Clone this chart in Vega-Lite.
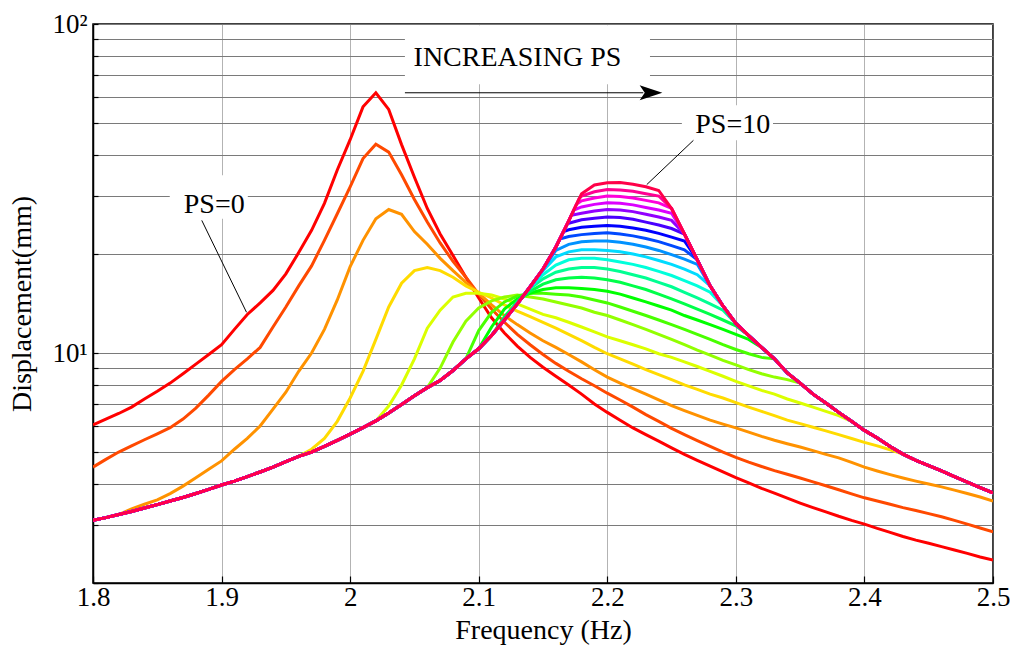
{
"$schema":"https://vega.github.io/schema/vega-lite/v6.json",
"width":900,"height":559,
"autosize":{"type":"none"},
"padding":{"left":93,"top":24,"right":17,"bottom":64},
"background":"white",
"config":{
"view":{"stroke":"#000","strokeWidth":1.5},
"font":"Liberation Serif",
"axis":{"labelFont":"Liberation Serif","titleFont":"Liberation Serif","labelFontSize":27,"titleFontSize":28,"labelColor":"#000","titleColor":"#000","titleFontWeight":"normal","domainColor":"#000","domainWidth":1.5,"tickColor":"#000","tickWidth":1.2,"gridOpacity":1,"gridWidth":1}
},
"datasets":{
"curves":[
{"hz":1.8,"a":6.05,"b":4.5,"c":3.1,"d":3.1,"e":3.1,"f":3.1,"g":3.1,"h":3.1,"i":3.1,"j":3.1,"k":3.1,"l":3.1,"m":3.1,"n":3.1,"o":3.1,"p":3.1,"q":3.1,"r":3.1,"s":3.1,"t":3.1,"u":3.1},
{"hz":1.81,"a":6.3,"b":4.75,"c":3.16,"d":3.16,"e":3.16,"f":3.16,"g":3.16,"h":3.16,"i":3.16,"j":3.16,"k":3.16,"l":3.16,"m":3.16,"n":3.16,"o":3.16,"p":3.16,"q":3.16,"r":3.16,"s":3.16,"t":3.16,"u":3.16},
{"hz":1.82,"a":6.55,"b":5.0,"c":3.23,"d":3.23,"e":3.23,"f":3.23,"g":3.23,"h":3.23,"i":3.23,"j":3.23,"k":3.23,"l":3.23,"m":3.23,"n":3.23,"o":3.23,"p":3.23,"q":3.23,"r":3.23,"s":3.23,"t":3.23,"u":3.23},
{"hz":1.83,"a":6.85,"b":5.22,"c":3.36,"d":3.3,"e":3.3,"f":3.3,"g":3.3,"h":3.3,"i":3.3,"j":3.3,"k":3.3,"l":3.3,"m":3.3,"n":3.3,"o":3.3,"p":3.3,"q":3.3,"r":3.3,"s":3.3,"t":3.3,"u":3.3},
{"hz":1.84,"a":7.25,"b":5.45,"c":3.47,"d":3.38,"e":3.38,"f":3.38,"g":3.38,"h":3.38,"i":3.38,"j":3.38,"k":3.38,"l":3.38,"m":3.38,"n":3.38,"o":3.38,"p":3.38,"q":3.38,"r":3.38,"s":3.38,"t":3.38,"u":3.38},
{"hz":1.85,"a":7.65,"b":5.68,"c":3.58,"d":3.46,"e":3.46,"f":3.46,"g":3.46,"h":3.46,"i":3.46,"j":3.46,"k":3.46,"l":3.46,"m":3.46,"n":3.46,"o":3.46,"p":3.46,"q":3.46,"r":3.46,"s":3.46,"t":3.46,"u":3.46},
{"hz":1.86,"a":8.1,"b":5.93,"c":3.74,"d":3.55,"e":3.55,"f":3.55,"g":3.55,"h":3.55,"i":3.55,"j":3.55,"k":3.55,"l":3.55,"m":3.55,"n":3.55,"o":3.55,"p":3.55,"q":3.55,"r":3.55,"s":3.55,"t":3.55,"u":3.55},
{"hz":1.87,"a":8.65,"b":6.3,"c":3.94,"d":3.64,"e":3.64,"f":3.64,"g":3.64,"h":3.64,"i":3.64,"j":3.64,"k":3.64,"l":3.64,"m":3.64,"n":3.64,"o":3.64,"p":3.64,"q":3.64,"r":3.64,"s":3.64,"t":3.64,"u":3.64},
{"hz":1.88,"a":9.25,"b":6.8,"c":4.18,"d":3.74,"e":3.74,"f":3.74,"g":3.74,"h":3.74,"i":3.74,"j":3.74,"k":3.74,"l":3.74,"m":3.74,"n":3.74,"o":3.74,"p":3.74,"q":3.74,"r":3.74,"s":3.74,"t":3.74,"u":3.74},
{"hz":1.89,"a":9.9,"b":7.45,"c":4.43,"d":3.85,"e":3.85,"f":3.85,"g":3.85,"h":3.85,"i":3.85,"j":3.85,"k":3.85,"l":3.85,"m":3.85,"n":3.85,"o":3.85,"p":3.85,"q":3.85,"r":3.85,"s":3.85,"t":3.85,"u":3.85},
{"hz":1.9,"a":10.6,"b":8.2,"c":4.7,"d":3.97,"e":3.97,"f":3.97,"g":3.97,"h":3.97,"i":3.97,"j":3.97,"k":3.97,"l":3.97,"m":3.97,"n":3.97,"o":3.97,"p":3.97,"q":3.97,"r":3.97,"s":3.97,"t":3.97,"u":3.97},
{"hz":1.91,"a":11.8,"b":8.9,"c":5.1,"d":4.08,"e":4.08,"f":4.08,"g":4.08,"h":4.08,"i":4.08,"j":4.08,"k":4.08,"l":4.08,"m":4.08,"n":4.08,"o":4.08,"p":4.08,"q":4.08,"r":4.08,"s":4.08,"t":4.08,"u":4.08},
{"hz":1.92,"a":13.1,"b":9.6,"c":5.5,"d":4.21,"e":4.21,"f":4.21,"g":4.21,"h":4.21,"i":4.21,"j":4.21,"k":4.21,"l":4.21,"m":4.21,"n":4.21,"o":4.21,"p":4.21,"q":4.21,"r":4.21,"s":4.21,"t":4.21,"u":4.21},
{"hz":1.93,"a":14.2,"b":10.4,"c":6.0,"d":4.35,"e":4.35,"f":4.35,"g":4.35,"h":4.35,"i":4.35,"j":4.35,"k":4.35,"l":4.35,"m":4.35,"n":4.35,"o":4.35,"p":4.35,"q":4.35,"r":4.35,"s":4.35,"t":4.35,"u":4.35},
{"hz":1.94,"a":15.5,"b":12.0,"c":6.75,"d":4.5,"e":4.5,"f":4.5,"g":4.5,"h":4.5,"i":4.5,"j":4.5,"k":4.5,"l":4.5,"m":4.5,"n":4.5,"o":4.5,"p":4.5,"q":4.5,"r":4.5,"s":4.5,"t":4.5,"u":4.5},
{"hz":1.95,"a":17.4,"b":13.8,"c":7.6,"d":4.68,"e":4.68,"f":4.68,"g":4.68,"h":4.68,"i":4.68,"j":4.68,"k":4.68,"l":4.68,"m":4.68,"n":4.68,"o":4.68,"p":4.68,"q":4.68,"r":4.68,"s":4.68,"t":4.68,"u":4.68},
{"hz":1.96,"a":20.2,"b":16.0,"c":8.8,"d":4.85,"e":4.85,"f":4.85,"g":4.85,"h":4.85,"i":4.85,"j":4.85,"k":4.85,"l":4.85,"m":4.85,"n":4.85,"o":4.85,"p":4.85,"q":4.85,"r":4.85,"s":4.85,"t":4.85,"u":4.85},
{"hz":1.97,"a":23.6,"b":18.4,"c":10.0,"d":5.1,"e":5.0,"f":5.0,"g":5.0,"h":5.0,"i":5.0,"j":5.0,"k":5.0,"l":5.0,"m":5.0,"n":5.0,"o":5.0,"p":5.0,"q":5.0,"r":5.0,"s":5.0,"t":5.0,"u":5.0},
{"hz":1.98,"a":28.5,"b":22.0,"c":11.8,"d":5.5,"e":5.2,"f":5.2,"g":5.2,"h":5.2,"i":5.2,"j":5.2,"k":5.2,"l":5.2,"m":5.2,"n":5.2,"o":5.2,"p":5.2,"q":5.2,"r":5.2,"s":5.2,"t":5.2,"u":5.2},
{"hz":1.99,"a":36.0,"b":26.5,"c":14.5,"d":6.2,"e":5.43,"f":5.43,"g":5.43,"h":5.43,"i":5.43,"j":5.43,"k":5.43,"l":5.43,"m":5.43,"n":5.43,"o":5.43,"p":5.43,"q":5.43,"r":5.43,"s":5.43,"t":5.43,"u":5.43},
{"hz":2.0,"a":44.5,"b":32.0,"c":18.3,"d":7.3,"e":5.67,"f":5.67,"g":5.67,"h":5.67,"i":5.67,"j":5.67,"k":5.67,"l":5.67,"m":5.67,"n":5.67,"o":5.67,"p":5.67,"q":5.67,"r":5.67,"s":5.67,"t":5.67,"u":5.67},
{"hz":2.01,"a":56.0,"b":39.0,"c":22.0,"d":8.8,"e":5.93,"f":5.93,"g":5.93,"h":5.93,"i":5.93,"j":5.93,"k":5.93,"l":5.93,"m":5.93,"n":5.93,"o":5.93,"p":5.93,"q":5.93,"r":5.93,"s":5.93,"t":5.93,"u":5.93},
{"hz":2.02,"a":61.8,"b":43.1,"c":25.6,"d":11.0,"e":6.22,"f":6.22,"g":6.22,"h":6.22,"i":6.22,"j":6.22,"k":6.22,"l":6.22,"m":6.22,"n":6.22,"o":6.22,"p":6.22,"q":6.22,"r":6.22,"s":6.22,"t":6.22,"u":6.22},
{"hz":2.03,"a":55.0,"b":40.8,"c":27.3,"d":13.8,"e":6.9,"f":6.57,"g":6.57,"h":6.57,"i":6.57,"j":6.57,"k":6.57,"l":6.57,"m":6.57,"n":6.57,"o":6.57,"p":6.57,"q":6.57,"r":6.57,"s":6.57,"t":6.57,"u":6.57},
{"hz":2.04,"a":43.0,"b":34.8,"c":26.4,"d":16.3,"e":8.0,"f":6.98,"g":6.98,"h":6.98,"i":6.98,"j":6.98,"k":6.98,"l":6.98,"m":6.98,"n":6.98,"o":6.98,"p":6.98,"q":6.98,"r":6.98,"s":6.98,"t":6.98,"u":6.98},
{"hz":2.05,"a":34.2,"b":29.3,"c":23.4,"d":17.8,"e":9.6,"f":7.42,"g":7.42,"h":7.42,"i":7.42,"j":7.42,"k":7.42,"l":7.42,"m":7.42,"n":7.42,"o":7.42,"p":7.42,"q":7.42,"r":7.42,"s":7.42,"t":7.42,"u":7.42},
{"hz":2.06,"a":27.5,"b":25.0,"c":21.4,"d":18.2,"e":11.9,"f":7.85,"g":7.85,"h":7.85,"i":7.85,"j":7.85,"k":7.85,"l":7.85,"m":7.85,"n":7.85,"o":7.85,"p":7.85,"q":7.85,"r":7.85,"s":7.85,"t":7.85,"u":7.85},
{"hz":2.07,"a":23.0,"b":21.6,"c":19.4,"d":17.8,"e":13.5,"f":9.0,"g":8.25,"h":8.25,"i":8.25,"j":8.25,"k":8.25,"l":8.25,"m":8.25,"n":8.25,"o":8.25,"p":8.25,"q":8.25,"r":8.25,"s":8.25,"t":8.25,"u":8.25},
{"hz":2.08,"a":19.8,"b":19.0,"c":17.8,"d":17.0,"e":14.8,"f":10.8,"g":8.85,"h":8.85,"i":8.85,"j":8.85,"k":8.85,"l":8.85,"m":8.85,"n":8.85,"o":8.85,"p":8.85,"q":8.85,"r":8.85,"s":8.85,"t":8.85,"u":8.85},
{"hz":2.09,"a":17.0,"b":17.0,"c":16.4,"d":16.0,"e":15.2,"f":12.5,"g":9.6,"h":9.6,"i":9.6,"j":9.6,"k":9.6,"l":9.6,"m":9.6,"n":9.6,"o":9.6,"p":9.6,"q":9.6,"r":9.6,"s":9.6,"t":9.6,"u":9.6},
{"hz":2.1,"a":14.7,"b":15.1,"c":15.2,"d":15.3,"e":15.2,"f":13.7,"g":11.7,"h":10.3,"i":10.3,"j":10.3,"k":10.3,"l":10.3,"m":10.3,"n":10.3,"o":10.3,"p":10.3,"q":10.3,"r":10.3,"s":10.3,"t":10.3,"u":10.3},
{"hz":2.11,"a":12.8,"b":13.6,"c":14.0,"d":14.7,"e":15.0,"f":14.4,"g":13.3,"h":12.0,"i":11.3,"j":11.3,"k":11.3,"l":11.3,"m":11.3,"n":11.3,"o":11.3,"p":11.3,"q":11.3,"r":11.3,"s":11.3,"t":11.3,"u":11.3},
{"hz":2.12,"a":11.5,"b":12.4,"c":13.0,"d":14.0,"e":14.6,"f":14.8,"g":14.3,"h":13.6,"i":12.9,"j":12.6,"k":12.6,"l":12.6,"m":12.6,"n":12.6,"o":12.6,"p":12.6,"q":12.6,"r":12.6,"s":12.6,"t":12.6,"u":12.6},
{"hz":2.13,"a":10.5,"b":11.4,"c":12.2,"d":13.4,"e":14.1,"f":15.0,"g":14.9,"h":14.6,"i":14.3,"j":14.3,"k":14.1,"l":14.1,"m":14.1,"n":14.1,"o":14.1,"p":14.1,"q":14.1,"r":14.1,"s":14.1,"t":14.1,"u":14.1},
{"hz":2.14,"a":9.7,"b":10.6,"c":11.5,"d":12.9,"e":13.6,"f":14.8,"g":15.2,"h":15.2,"i":15.4,"j":15.7,"k":15.8,"l":15.9,"m":15.9,"n":15.9,"o":15.9,"p":15.9,"q":15.9,"r":15.9,"s":15.9,"t":15.9,"u":15.9},
{"hz":2.15,"a":9.05,"b":9.9,"c":10.9,"d":12.4,"e":13.1,"f":14.6,"g":15.2,"h":15.6,"i":16.2,"j":16.8,"k":17.3,"l":17.8,"m":18.0,"n":18.0,"o":18.0,"p":18.0,"q":18.0,"r":18.0,"s":18.0,"t":18.0,"u":18.0},
{"hz":2.16,"a":8.5,"b":9.3,"c":10.4,"d":11.9,"e":12.8,"f":14.3,"g":15.1,"h":15.8,"i":16.7,"j":17.6,"k":18.5,"l":19.6,"m":20.5,"n":21.0,"o":21.0,"p":21.0,"q":21.0,"r":21.0,"s":21.0,"t":21.0,"u":21.0},
{"hz":2.163,"n":22.2},
{"hz":2.166,"o":23.4},
{"hz":2.169,"p":24.7},
{"hz":2.17,"a":8.0,"b":8.8,"c":9.9,"d":11.4,"e":12.4,"f":14.0,"g":15.0,"h":15.8,"i":16.9,"j":18.0,"k":19.2,"l":20.3,"m":21.4,"n":22.6,"o":23.7,"p":24.8,"q":25.2,"r":25.2,"s":25.2,"t":25.2,"u":25.2},
{"hz":2.172,"q":26.2},
{"hz":2.174,"r":27.2},
{"hz":2.176,"s":28.3},
{"hz":2.178,"t":29.4},
{"hz":2.18,"a":7.5,"b":8.35,"c":9.4,"d":10.9,"e":12.0,"f":13.7,"g":14.8,"h":15.7,"i":17.0,"j":18.2,"k":19.4,"l":20.6,"m":21.8,"n":22.9,"o":24.1,"p":25.4,"q":26.6,"r":27.8,"s":29.0,"t":30.0,"u":30.5},
{"hz":2.19,"a":7.0,"b":7.95,"c":8.9,"d":10.4,"e":11.6,"f":13.3,"g":14.5,"h":15.6,"i":16.9,"j":18.2,"k":19.4,"l":20.6,"m":21.9,"n":23.1,"o":24.3,"p":25.7,"q":27.0,"r":28.3,"s":29.6,"t":30.9,"u":32.4},
{"hz":2.2,"a":6.6,"b":7.55,"c":8.45,"d":9.95,"e":11.2,"f":13.0,"g":14.2,"h":15.4,"i":16.7,"j":18.0,"k":19.2,"l":20.5,"m":21.9,"n":23.2,"o":24.4,"p":25.9,"q":27.3,"r":28.6,"s":30.0,"t":31.4,"u":32.9},
{"hz":2.21,"a":6.25,"b":7.2,"c":8.1,"d":9.6,"e":10.9,"f":12.6,"g":13.8,"h":15.1,"i":16.4,"j":17.7,"k":18.9,"l":20.3,"m":21.7,"n":23.0,"o":24.3,"p":25.8,"q":27.2,"r":28.5,"s":29.9,"t":31.3,"u":33.0},
{"hz":2.22,"a":5.92,"b":6.85,"c":7.8,"d":9.25,"e":10.6,"f":12.2,"g":13.4,"h":14.7,"i":16.0,"j":17.3,"k":18.6,"l":20.0,"m":21.4,"n":22.7,"o":24.0,"p":25.5,"q":26.9,"r":28.2,"s":29.6,"t":31.0,"u":32.6},
{"hz":2.23,"a":5.65,"b":6.5,"c":7.5,"d":8.9,"e":10.3,"f":11.8,"g":13.0,"h":14.3,"i":15.6,"j":16.9,"k":18.2,"l":19.6,"m":21.0,"n":22.3,"o":23.6,"p":25.0,"q":26.4,"r":27.7,"s":29.1,"t":30.5,"u":32.0},
{"hz":2.24,"a":5.4,"b":6.2,"c":7.2,"d":8.6,"e":9.95,"f":11.4,"g":12.6,"h":13.9,"i":15.1,"j":16.4,"k":17.7,"l":19.1,"m":20.5,"n":21.8,"o":23.1,"p":24.5,"q":25.9,"r":27.2,"s":28.6,"t":30.0,"u":31.2},
{"hz":2.25,"a":5.15,"b":5.9,"c":6.92,"d":8.3,"e":9.7,"f":11.0,"g":12.2,"h":13.5,"i":14.6,"j":15.9,"k":17.2,"l":18.6,"m":19.9,"n":21.2,"o":22.5,"p":23.9,"q":25.3,"r":26.6,"s":27.5,"t":27.5,"u":27.5},
{"hz":2.26,"a":4.92,"b":5.65,"c":6.68,"d":8.0,"e":9.4,"f":10.6,"g":11.8,"h":13.0,"i":14.1,"j":15.3,"k":16.6,"l":18.0,"m":19.3,"n":20.6,"o":21.9,"p":23.0,"q":23.0,"r":23.0,"s":23.0,"t":23.0,"u":23.0},
{"hz":2.27,"a":4.72,"b":5.42,"c":6.46,"d":7.75,"e":9.1,"f":10.2,"g":11.4,"h":12.6,"i":13.6,"j":14.7,"k":16.0,"l":17.3,"m":18.6,"n":19.2,"o":19.2,"p":19.2,"q":19.2,"r":19.2,"s":19.2,"t":19.2,"u":19.2},
{"hz":2.28,"a":4.53,"b":5.2,"c":6.25,"d":7.5,"e":8.8,"f":9.85,"g":11.0,"h":12.2,"i":13.1,"j":14.1,"k":15.3,"l":16.0,"m":16.0,"n":16.0,"o":16.0,"p":16.0,"q":16.0,"r":16.0,"s":16.0,"t":16.0,"u":16.0},
{"hz":2.29,"a":4.35,"b":5.0,"c":6.08,"d":7.3,"e":8.5,"f":9.5,"g":10.6,"h":11.8,"i":12.6,"j":13.5,"k":13.9,"l":13.9,"m":13.9,"n":13.9,"o":13.9,"p":13.9,"q":13.9,"r":13.9,"s":13.9,"t":13.9,"u":13.9},
{"hz":2.3,"a":4.18,"b":4.82,"c":5.92,"d":7.07,"e":8.2,"f":9.2,"g":10.25,"h":11.4,"i":12.1,"j":12.3,"k":12.3,"l":12.3,"m":12.3,"n":12.3,"o":12.3,"p":12.3,"q":12.3,"r":12.3,"s":12.3,"t":12.3,"u":12.3},
{"hz":2.31,"a":4.03,"b":4.66,"c":5.75,"d":6.85,"e":7.95,"f":8.9,"g":9.95,"h":11.0,"i":11.3,"j":11.3,"k":11.3,"l":11.3,"m":11.3,"n":11.3,"o":11.3,"p":11.3,"q":11.3,"r":11.3,"s":11.3,"t":11.3,"u":11.3},
{"hz":2.32,"a":3.88,"b":4.52,"c":5.58,"d":6.65,"e":7.7,"f":8.65,"g":9.7,"h":10.4,"i":10.4,"j":10.4,"k":10.4,"l":10.4,"m":10.4,"n":10.4,"o":10.4,"p":10.4,"q":10.4,"r":10.4,"s":10.4,"t":10.4,"u":10.4},
{"hz":2.33,"a":3.75,"b":4.39,"c":5.43,"d":6.45,"e":7.5,"f":8.45,"g":9.6,"h":9.6,"i":9.6,"j":9.6,"k":9.6,"l":9.6,"m":9.6,"n":9.6,"o":9.6,"p":9.6,"q":9.6,"r":9.6,"s":9.6,"t":9.6,"u":9.6},
{"hz":2.34,"a":3.62,"b":4.28,"c":5.3,"d":6.25,"e":7.25,"f":8.3,"g":8.7,"h":8.7,"i":8.7,"j":8.7,"k":8.7,"l":8.7,"m":8.7,"n":8.7,"o":8.7,"p":8.7,"q":8.7,"r":8.7,"s":8.7,"t":8.7,"u":8.7},
{"hz":2.35,"a":3.5,"b":4.17,"c":5.18,"d":6.1,"e":7.05,"f":8.1,"g":8.1,"h":8.1,"i":8.1,"j":8.1,"k":8.1,"l":8.1,"m":8.1,"n":8.1,"o":8.1,"p":8.1,"q":8.1,"r":8.1,"s":8.1,"t":8.1,"u":8.1},
{"hz":2.36,"a":3.39,"b":4.06,"c":5.05,"d":5.95,"e":6.85,"f":7.5,"g":7.5,"h":7.5,"i":7.5,"j":7.5,"k":7.5,"l":7.5,"m":7.5,"n":7.5,"o":7.5,"p":7.5,"q":7.5,"r":7.5,"s":7.5,"t":7.5,"u":7.5},
{"hz":2.37,"a":3.29,"b":3.95,"c":4.92,"d":5.8,"e":6.65,"f":7.05,"g":7.05,"h":7.05,"i":7.05,"j":7.05,"k":7.05,"l":7.05,"m":7.05,"n":7.05,"o":7.05,"p":7.05,"q":7.05,"r":7.05,"s":7.05,"t":7.05,"u":7.05},
{"hz":2.38,"a":3.19,"b":3.84,"c":4.8,"d":5.65,"e":6.45,"f":6.6,"g":6.6,"h":6.6,"i":6.6,"j":6.6,"k":6.6,"l":6.6,"m":6.6,"n":6.6,"o":6.6,"p":6.6,"q":6.6,"r":6.6,"s":6.6,"t":6.6,"u":6.6},
{"hz":2.39,"a":3.1,"b":3.73,"c":4.65,"d":5.5,"e":6.2,"f":6.2,"g":6.2,"h":6.2,"i":6.2,"j":6.2,"k":6.2,"l":6.2,"m":6.2,"n":6.2,"o":6.2,"p":6.2,"q":6.2,"r":6.2,"s":6.2,"t":6.2,"u":6.2},
{"hz":2.4,"a":3.02,"b":3.63,"c":4.5,"d":5.35,"e":5.82,"f":5.82,"g":5.82,"h":5.82,"i":5.82,"j":5.82,"k":5.82,"l":5.82,"m":5.82,"n":5.82,"o":5.82,"p":5.82,"q":5.82,"r":5.82,"s":5.82,"t":5.82,"u":5.82},
{"hz":2.41,"a":2.93,"b":3.55,"c":4.38,"d":5.22,"e":5.52,"f":5.52,"g":5.52,"h":5.52,"i":5.52,"j":5.52,"k":5.52,"l":5.52,"m":5.52,"n":5.52,"o":5.52,"p":5.52,"q":5.52,"r":5.52,"s":5.52,"t":5.52,"u":5.52},
{"hz":2.42,"a":2.85,"b":3.47,"c":4.27,"d":5.08,"e":5.2,"f":5.2,"g":5.2,"h":5.2,"i":5.2,"j":5.2,"k":5.2,"l":5.2,"m":5.2,"n":5.2,"o":5.2,"p":5.2,"q":5.2,"r":5.2,"s":5.2,"t":5.2,"u":5.2},
{"hz":2.43,"a":2.77,"b":3.39,"c":4.17,"d":4.93,"e":4.93,"f":4.93,"g":4.93,"h":4.93,"i":4.93,"j":4.93,"k":4.93,"l":4.93,"m":4.93,"n":4.93,"o":4.93,"p":4.93,"q":4.93,"r":4.93,"s":4.93,"t":4.93,"u":4.93},
{"hz":2.44,"a":2.7,"b":3.32,"c":4.08,"d":4.72,"e":4.72,"f":4.72,"g":4.72,"h":4.72,"i":4.72,"j":4.72,"k":4.72,"l":4.72,"m":4.72,"n":4.72,"o":4.72,"p":4.72,"q":4.72,"r":4.72,"s":4.72,"t":4.72,"u":4.72},
{"hz":2.45,"a":2.64,"b":3.25,"c":4.0,"d":4.55,"e":4.55,"f":4.55,"g":4.55,"h":4.55,"i":4.55,"j":4.55,"k":4.55,"l":4.55,"m":4.55,"n":4.55,"o":4.55,"p":4.55,"q":4.55,"r":4.55,"s":4.55,"t":4.55,"u":4.55},
{"hz":2.46,"a":2.58,"b":3.18,"c":3.92,"d":4.38,"e":4.38,"f":4.38,"g":4.38,"h":4.38,"i":4.38,"j":4.38,"k":4.38,"l":4.38,"m":4.38,"n":4.38,"o":4.38,"p":4.38,"q":4.38,"r":4.38,"s":4.38,"t":4.38,"u":4.38},
{"hz":2.47,"a":2.52,"b":3.1,"c":3.83,"d":4.21,"e":4.21,"f":4.21,"g":4.21,"h":4.21,"i":4.21,"j":4.21,"k":4.21,"l":4.21,"m":4.21,"n":4.21,"o":4.21,"p":4.21,"q":4.21,"r":4.21,"s":4.21,"t":4.21,"u":4.21},
{"hz":2.48,"a":2.46,"b":3.02,"c":3.74,"d":4.05,"e":4.05,"f":4.05,"g":4.05,"h":4.05,"i":4.05,"j":4.05,"k":4.05,"l":4.05,"m":4.05,"n":4.05,"o":4.05,"p":4.05,"q":4.05,"r":4.05,"s":4.05,"t":4.05,"u":4.05},
{"hz":2.49,"a":2.4,"b":2.94,"c":3.65,"d":3.9,"e":3.9,"f":3.9,"g":3.9,"h":3.9,"i":3.9,"j":3.9,"k":3.9,"l":3.9,"m":3.9,"n":3.9,"o":3.9,"p":3.9,"q":3.9,"r":3.9,"s":3.9,"t":3.9,"u":3.9},
{"hz":2.5,"a":2.35,"b":2.86,"c":3.55,"d":3.76,"e":3.76,"f":3.76,"g":3.76,"h":3.76,"i":3.76,"j":3.76,"k":3.76,"l":3.76,"m":3.76,"n":3.76,"o":3.76,"p":3.76,"q":3.76,"r":3.76,"s":3.76,"t":3.76,"u":3.76}
],
"boxes":[
{"hz":2.0426,"hz2":2.2332,"v":65.6,"v2":99.2},
{"hz":1.8597,"hz2":1.9204,"v":25.6,"v2":34.7},
{"hz":2.258,"hz2":2.3289,"v":44.3,"v2":56.6}
],
"labels":[
{"hz":2.1301,"v":74.5,"t":"INCREASING PS"},
{"hz":1.8943,"v":26.7,"t":"PS=0"},
{"hz":2.2976,"v":46.7,"t":"PS=10"}
],
"leaders":[
{"hz":1.8846,"hz2":1.9194,"v":25.3,"v2":13.3},
{"hz":2.267,"hz2":2.2307,"v":44.3,"v2":32.5},
{"hz":2.0426,"hz2":2.228,"v":61.8,"v2":61.8}
],
"arrow":[{"hz":2.234,"v":61.8}]
},
"layer":[
{"data":{"name":"curves"},
"transform":[{"fold":["a","b","c","d","e","f","g","h","i","j","k","l","m","n","o","p","q","r","s","t","u"],"as":["curve","v"]},{"filter":"isValid(datum.v)"}],
"mark":{"type":"line","strokeWidth":3,"clip":true},
"encoding":{
"x":{"field":"hz","type":"quantitative","title":"Frequency (Hz)","scale":{"domain":[1.8,2.5],"nice":false,"zero":false},
"axis":{"values":[1.8,1.9,2,2.1,2.2,2.3,2.4,2.5],"format":"~g","labelFlush":false,"labelOverlap":false,"labelBound":false,"labelPadding":8,"tickSize":-7,"titlePadding":6,"grid":true,"gridColor":"#666","gridDash":[1,1]}},
"y":{"field":"v","type":"quantitative","title":"Displacement(mm)","scale":{"type":"log","domain":[2,100],"nice":false},
"axis":{"values":[2,3,4,5,6,7,8,9,10,20,30,40,50,60,70,80,90,100],"labelExpr":"datum.value == 10 ? '10¹' : (datum.value == 100 ? '10²' : '')","labelOverlap":false,"labelBound":false,"labelFlush":false,"labelPadding":11,"tickSize":-5,"titlePadding":15,"grid":true,"gridColor":"#7a7a7a","gridDash":[]}},
"color":{"field":"curve","type":"nominal","legend":null,
"scale":{"domain":["a","b","c","d","e","f","g","h","i","j","k","l","m","n","o","p","q","r","s","t","u"],
"range":["#FF0000","#FF4900","#FF9200","#FFDB00","#DBFF00","#92FF00","#49FF00","#00FF00","#00FF49","#00FF92","#00FFDB","#00DBFF","#0092FF","#0049FF","#0000FF","#4900FF","#9200FF","#DB00FF","#FF00DB","#FF0092","#FF0049"]}}
}},
{"data":{"name":"boxes"},
"mark":{"type":"rect","fill":"white","stroke":null},
"encoding":{
"x":{"field":"hz","type":"quantitative","title":"Frequency (Hz)"},
"x2":{"field":"hz2"},
"y":{"field":"v","type":"quantitative","title":"Displacement(mm)"},
"y2":{"field":"v2"}
}},
{"data":{"name":"leaders"},
"mark":{"type":"rule","color":"#000","strokeWidth":1},
"encoding":{
"x":{"field":"hz","type":"quantitative","title":"Frequency (Hz)"},
"x2":{"field":"hz2"},
"y":{"field":"v","type":"quantitative","title":"Displacement(mm)"},
"y2":{"field":"v2"}
}},
{"data":{"name":"arrow"},
"mark":{"type":"point","shape":"M-1,-0.66L1,0L-1,0.66L-0.55,0Z","filled":true,"color":"#000","size":515,"opacity":1},
"encoding":{
"x":{"field":"hz","type":"quantitative","title":"Frequency (Hz)"},
"y":{"field":"v","type":"quantitative","title":"Displacement(mm)"}
}},
{"data":{"name":"labels"},
"mark":{"type":"text","font":"Liberation Serif","fontSize":28,"align":"center","baseline":"alphabetic","color":"#000"},
"encoding":{
"x":{"field":"hz","type":"quantitative","title":"Frequency (Hz)"},
"y":{"field":"v","type":"quantitative","title":"Displacement(mm)"},
"text":{"field":"t"}
}}
]
}
